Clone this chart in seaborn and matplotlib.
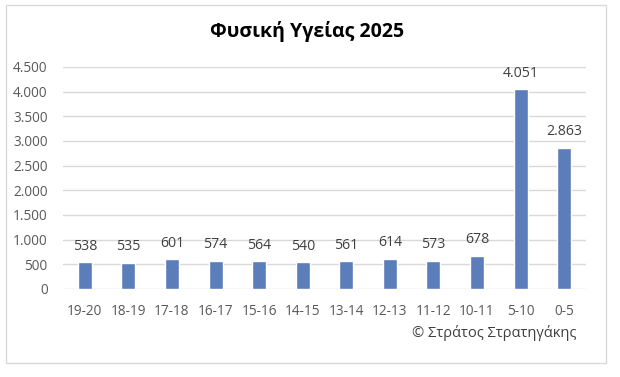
"""
Φυσική Υγείας 2025 - bar chart by age group
"""

import matplotlib
matplotlib.use('Agg')
import matplotlib.pyplot as plt
from matplotlib.patches import Rectangle
from matplotlib.ticker import FuncFormatter
import pandas as pd
import seaborn as sns

# Data
age_groups = ['19-20', '18-19', '17-18', '16-17', '15-16', '14-15',
              '13-14', '12-13', '11-12', '10-11', '5-10', '0-5']
counts = [538, 535, 601, 574, 564, 540, 561, 614, 573, 678, 4051, 2863]
y_ticks = [0, 500, 1000, 1500, 2000, 2500, 3000, 3500, 4000, 4500]

title = 'Φυσική Υγείας 2025'
credit = '© Στράτος Στρατηγάκης'

# Style
sns.set_style("white")
plt.rcParams['font.family'] = ['Open Sans', 'DejaVu Sans']

bar_color = '#5B7DB9'
grid_color = '#D9D9D9'
tick_color = '#595959'
label_color = '#404040'


def dot_thousands(v, pos=None):
    return f'{int(v):,}'.replace(',', '.')


df = pd.DataFrame({'group': age_groups, 'count': counts})

fig = plt.figure(figsize=(6.2, 3.77), dpi=100)
ax = fig.add_axes([63 / 620, 1 - 289 / 377, 523 / 620, 222 / 377])

sns.barplot(data=df, x='group', y='count', order=age_groups,
            color=bar_color, saturation=1, width=0.32, ax=ax)

ax.set_ylim(0, 4500)
ax.set_yticks(y_ticks)
ax.yaxis.set_major_formatter(FuncFormatter(dot_thousands))
ax.grid(axis='y', color=grid_color, linewidth=1)
ax.set_axisbelow(True)
for s in ax.spines.values():
    s.set_visible(False)
ax.tick_params(axis='both', length=0, labelsize=9.8, colors=tick_color)
ax.tick_params(axis='x', pad=11)
ax.tick_params(axis='y', pad=11)
ax.set_xlabel('')
ax.set_ylabel('')

# Data labels
for i, v in enumerate(counts):
    ax.annotate(dot_thousands(v), (i, v), xytext=(0, 6), textcoords='offset points',
                ha='center', va='bottom', fontsize=10.2, color=label_color)

fig.text(307 / 620, 1 - 32 / 377, title, ha='center', va='center',
         fontsize=14, fontweight='bold', color='black')
fig.text(576 / 620, 1 - 333 / 377, credit, ha='right', va='center',
         fontsize=10.5, color=label_color)

# Chart border
fig.patches.append(Rectangle((6 / 620, 1 - 363 / 377), 600 / 620, 358 / 377,
                             transform=fig.transFigure, fill=False,
                             edgecolor=grid_color, linewidth=1))

fig.savefig('out.png', dpi=100)
plt.close()
